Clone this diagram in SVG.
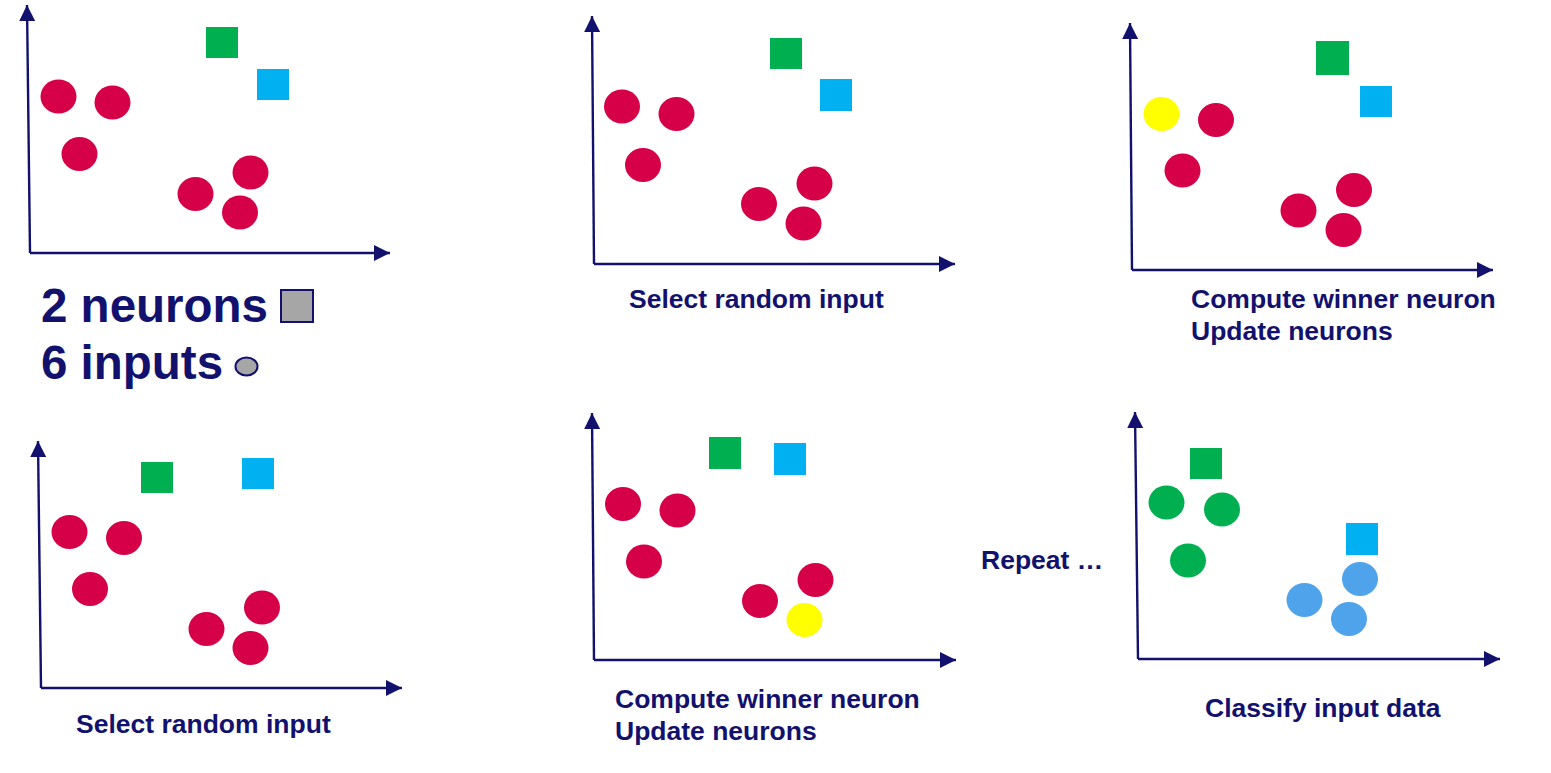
<svg xmlns="http://www.w3.org/2000/svg" width="1551" height="773" viewBox="0 0 1551 773">
<style>
.ax{stroke:#12126e;stroke-width:2.4;fill:none;marker-end:url(#ah)}
.r{fill:#d50048}
.y{fill:#ffff00}
.g{fill:#00b050}
.lb{fill:#4fa3ea}
.gs{fill:#00b050}
.bs{fill:#00b0f0}
.t{font-family:"Liberation Sans",Arial,sans-serif;font-weight:bold;fill:#12126e;font-size:26.5px}
.big{font-size:47.5px}
</style>
<defs>
<marker id="ah" markerUnits="userSpaceOnUse" markerWidth="17" markerHeight="17" refX="16" refY="8" orient="auto">
<path d="M0,0 L16,8 L0,16 z" fill="#12126e"/>
</marker>
</defs>
<rect width="1551" height="773" fill="#ffffff"/>
<g id="connectors">
<line class="ax" x1="30" y1="253" x2="27" y2="5"/>
<line class="ax" x1="30" y1="253" x2="390" y2="253"/>
<line class="ax" x1="594" y1="264" x2="592" y2="16"/>
<line class="ax" x1="594" y1="264" x2="955" y2="264"/>
<line class="ax" x1="1132" y1="270" x2="1130" y2="23"/>
<line class="ax" x1="1132" y1="270" x2="1493" y2="270"/>
<line class="ax" x1="41" y1="688" x2="38" y2="441"/>
<line class="ax" x1="41" y1="688" x2="402" y2="688"/>
<line class="ax" x1="594" y1="660" x2="592" y2="413"/>
<line class="ax" x1="594" y1="660" x2="956" y2="660"/>
<line class="ax" x1="1138" y1="659" x2="1135" y2="412"/>
<line class="ax" x1="1138" y1="659" x2="1500" y2="659"/>
</g>
<g id="panel1">
<rect class="gs" x="206" y="27" width="32" height="31"/>
<rect class="bs" x="257" y="69" width="32" height="31"/>
<ellipse class="r" cx="58.5" cy="96.5" rx="18" ry="17"/>
<ellipse class="r" cx="112.5" cy="102.5" rx="18" ry="17"/>
<ellipse class="r" cx="79.5" cy="154" rx="18" ry="17"/>
<ellipse class="r" cx="195.5" cy="194" rx="18" ry="17"/>
<ellipse class="r" cx="250.5" cy="172.5" rx="18" ry="17"/>
<ellipse class="r" cx="240" cy="212.5" rx="18" ry="17"/>
</g>
<g id="legend">
<text class="t big" x="41" y="322">2 neurons</text>
<rect x="281" y="290" width="32" height="32" fill="#a6a6a6" stroke="#12126e" stroke-width="2"/>
<text class="t big" x="41" y="379">6 inputs</text>
<ellipse cx="246.5" cy="366.5" rx="11" ry="9" fill="#a6a6a6" stroke="#12126e" stroke-width="2"/>
</g>
<g id="panel2">
<rect class="gs" x="770" y="38" width="32" height="31"/>
<rect class="bs" x="820" y="79" width="32" height="32"/>
<ellipse class="r" cx="622" cy="106.5" rx="18" ry="17"/>
<ellipse class="r" cx="676.5" cy="114" rx="18" ry="17"/>
<ellipse class="r" cx="643" cy="165" rx="18" ry="17"/>
<ellipse class="r" cx="759" cy="204" rx="18" ry="17"/>
<ellipse class="r" cx="814.5" cy="183.5" rx="18" ry="17"/>
<ellipse class="r" cx="803.5" cy="223.5" rx="18" ry="17"/>
<text class="t" x="629" y="308">Select random input</text>
</g>
<g id="panel3">
<rect class="gs" x="1316" y="41" width="33" height="34"/>
<rect class="bs" x="1360" y="86" width="32" height="31"/>
<ellipse class="y" cx="1161.5" cy="114" rx="18" ry="17"/>
<ellipse class="r" cx="1216" cy="120" rx="18" ry="17"/>
<ellipse class="r" cx="1182.5" cy="170.5" rx="18" ry="17"/>
<ellipse class="r" cx="1298.5" cy="210.5" rx="18" ry="17"/>
<ellipse class="r" cx="1354" cy="190" rx="18" ry="17"/>
<ellipse class="r" cx="1343.5" cy="230" rx="18" ry="17"/>
<text class="t" x="1191" y="308">Compute winner neuron</text>
<text class="t" x="1191" y="340">Update neurons</text>
</g>
<g id="panel4">
<rect class="gs" x="141" y="462" width="32" height="31"/>
<rect class="bs" x="242" y="458" width="32" height="31"/>
<ellipse class="r" cx="69.5" cy="532" rx="18" ry="17"/>
<ellipse class="r" cx="124" cy="538" rx="18" ry="17"/>
<ellipse class="r" cx="90" cy="589" rx="18" ry="17"/>
<ellipse class="r" cx="206.5" cy="629" rx="18" ry="17"/>
<ellipse class="r" cx="262" cy="607.5" rx="18" ry="17"/>
<ellipse class="r" cx="250.5" cy="648" rx="18" ry="17"/>
<text class="t" x="76" y="733">Select random input</text>
</g>
<g id="panel5">
<rect class="gs" x="709" y="437" width="32" height="32"/>
<rect class="bs" x="774" y="443" width="32" height="32"/>
<ellipse class="r" cx="623" cy="504" rx="18" ry="17"/>
<ellipse class="r" cx="677.5" cy="510.5" rx="18" ry="17"/>
<ellipse class="r" cx="644" cy="561.5" rx="18" ry="17"/>
<ellipse class="r" cx="760" cy="601" rx="18" ry="17"/>
<ellipse class="r" cx="815.5" cy="580" rx="18" ry="17"/>
<ellipse class="y" cx="804.5" cy="620" rx="18" ry="17"/>
<text class="t" x="615" y="708">Compute winner neuron</text>
<text class="t" x="615" y="740">Update neurons</text>
</g>
<g id="repeat">
<text class="t" x="981" y="569">Repeat …</text>
</g>
<g id="panel6">
<rect class="gs" x="1190" y="448" width="32" height="31"/>
<rect class="bs" x="1346" y="523" width="32" height="32"/>
<ellipse class="g" cx="1166.5" cy="502.5" rx="18" ry="17"/>
<ellipse class="g" cx="1222" cy="509.5" rx="18" ry="17"/>
<ellipse class="g" cx="1188" cy="560.5" rx="18" ry="17"/>
<ellipse class="lb" cx="1304.5" cy="600" rx="18" ry="17"/>
<ellipse class="lb" cx="1360" cy="579" rx="18" ry="17"/>
<ellipse class="lb" cx="1349" cy="619" rx="18" ry="17"/>
<text class="t" x="1205" y="717">Classify input data</text>
</g>
</svg>
